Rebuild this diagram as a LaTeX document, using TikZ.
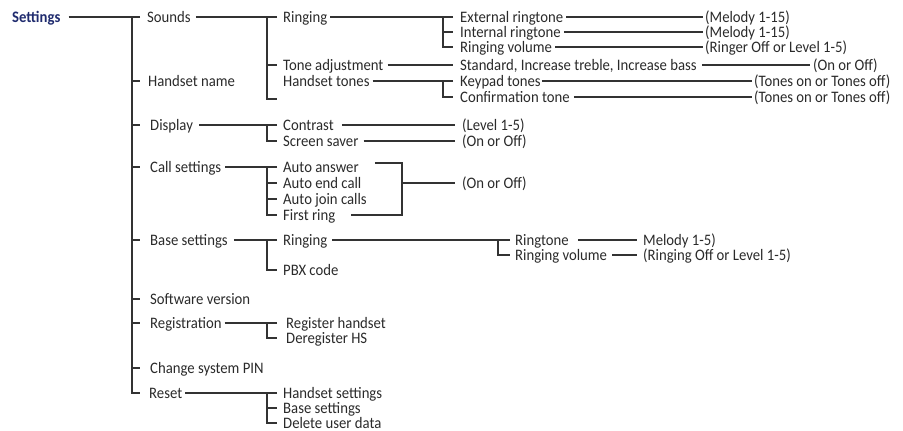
\documentclass[tikz,border=0pt]{standalone}
\usepackage{fontspec}
\setmainfont{Carlito}[FakeStretch=0.92]
\definecolor{txtc}{HTML}{2A2A2A}
\definecolor{linec}{HTML}{333333}
\definecolor{navy}{HTML}{1F2B6E}
\begin{document}
\begin{tikzpicture}[x=1pt,y=-1pt,
  lbl/.style={anchor=west,inner xsep=0pt,inner ysep=0pt,text height=10.3pt,text depth=0pt,
    font=\fontsize{16}{19}\selectfont,text=txtc},
  ln/.style={draw=linec,line width=1.15pt}]
\useasboundingbox (0,0) rectangle (903,431);
% ---- level 0
\node[lbl,font=\bfseries\fontsize{16}{19}\selectfont,text=navy] (settings) at (12,17) {Settings};
% ---- level 1
\node[lbl] (sounds)  at (147,17)  {Sounds};
\node[lbl] (hname)   at (148,81)  {Handset name};
\node[lbl] (display) at (150,125) {Display};
\node[lbl] (calls)   at (150,167) {Call settings};
\node[lbl] (bases)   at (150,240) {Base settings};
\node[lbl] (softv)   at (150,299) {Software version};
\node[lbl] (regis)   at (150,323) {Registration};
\node[lbl] (pin)     at (150,368) {Change system PIN};
\node[lbl] (reset)   at (149,393) {Reset};
% ---- sounds
\node[lbl] (ringA)   at (283,17)  {Ringing};
\node[lbl] (toneadj) at (283,65)  {Tone adjustment};
\node[lbl] (htones)  at (283,81)  {Handset tones};
\node[lbl] (extr)    at (460,17)  {External ringtone};
\node[lbl] (intr)    at (460,32)  {Internal ringtone};
\node[lbl] (rvol)    at (460,47)  {Ringing volume};
\node[lbl] (std)     at (460,65)  {Standard, Increase treble, Increase bass};
\node[lbl] (keypad)  at (460,81)  {Keypad tones};
\node[lbl] (conf)    at (460,97)  {Confirmation tone};
\node[lbl] (mel1)    at (705,17)  {(Melody 1-15)};
\node[lbl] (mel2)    at (705,32)  {(Melody 1-15)};
\node[lbl] (rlev)    at (705,47)  {(Ringer Off or Level 1-5)};
\node[lbl] (onoff1)  at (813,65)  {(On or Off)};
\node[lbl] (tones1)  at (754,81)  {(Tones on or Tones off)};
\node[lbl] (tones2)  at (754,97)  {(Tones on or Tones off)};
% ---- display
\node[lbl] (contr)   at (283,125) {Contrast};
\node[lbl] (ssaver)  at (283,141) {Screen saver};
\node[lbl] (lev)     at (462,125) {(Level 1-5)};
\node[lbl] (onoff2)  at (462,141) {(On or Off)};
% ---- call settings
\node[lbl] (aans)    at (283,167) {Auto answer};
\node[lbl] (aend)    at (283,183) {Auto end call};
\node[lbl] (ajoin)   at (283,199) {Auto join calls};
\node[lbl] (fring)   at (283,215) {First ring};
\node[lbl] (onoff3)  at (462,183) {(On or Off)};
% ---- base settings
\node[lbl] (bring)   at (283,240) {Ringing};
\node[lbl] (pbx)     at (283,270) {PBX code};
\node[lbl] (rtone)   at (515,240) {Ringtone};
\node[lbl] (bvol)    at (515,255) {Ringing volume};
\node[lbl] (mel3)    at (643,240) {Melody 1-5)};
\node[lbl] (rvoff)   at (643,255) {(Ringing Off or Level 1-5)};
% ---- registration
\node[lbl] (reghs)   at (286,323) {Register handset};
\node[lbl] (dereg)   at (286,338) {Deregister HS};
% ---- reset
\node[lbl] (hsset)   at (283,393) {Handset settings};
\node[lbl] (bsset)   at (283,408) {Base settings};
\node[lbl] (deldata) at (283,423) {Delete user data};

% ===== connectors
% trunk
\coordinate (t) at (132,17);
\draw[ln] ([xshift=8pt]settings.east) -- (sounds.west -| t);
\draw[ln] ([xshift=8pt]t) -- (t) -- (reset.west -| t) -- ++(8,0);
\foreach \n in {hname,display,calls,bases,softv,regis,pin}
  \draw[ln] (\n.west -| t) -- ++(8,0);
% sounds
\coordinate (b1) at (267,17);
\draw[ln] ([xshift=5pt]sounds.east) -- (b1);
\draw[ln] ([xshift=10pt]b1) -- (b1) -- (267,99) -- ++(10,0);
\draw[ln] (toneadj.west -| b1) -- ++(10,0);
% ringing
\coordinate (b2) at (443,17);
\draw[ln] ([xshift=3pt]ringA.east) -- (b2);
\draw[ln] ([xshift=10pt]b2) -- (b2) -- (b2 |- rvol.west) -- ++(10,0);
\draw[ln] (b2 |- intr.west) -- ++(10,0);
\draw[ln] ([xshift=3pt]extr.east) -- ([xshift=-2pt]mel1.west);
\draw[ln] ([xshift=3pt]intr.east) -- ([xshift=-2pt]mel2.west);
\draw[ln] ([xshift=3pt]rvol.east) -- ([xshift=-2pt]rlev.west);
% tone adjustment
\draw[ln] ([xshift=4pt]toneadj.east) -- ([xshift=-7pt]std.west);
\draw[ln] ([xshift=5pt]std.east) -- ([xshift=-3pt]onoff1.west);
% handset tones
\coordinate (b3) at (443,81);
\draw[ln] ([xshift=3pt]htones.east) -- (b3);
\draw[ln] ([xshift=10pt]b3) -- (b3) -- (b3 |- conf.west) -- ++(10,0);
\draw[ln] ([xshift=1pt]keypad.east) -- ([xshift=-2pt]tones1.west);
\draw[ln] ([xshift=4pt]conf.east) -- ([xshift=-2pt]tones2.west);
% display
\coordinate (b4) at (267,125);
\draw[ln] ([xshift=6pt]display.east) -- (b4);
\draw[ln] ([xshift=10pt]b4) -- (b4) -- (b4 |- ssaver.west) -- ++(10,0);
\draw[ln] ([xshift=8pt]contr.east) -- ([xshift=-7pt]lev.west);
\draw[ln] ([xshift=5pt]ssaver.east) -- ([xshift=-7pt]onoff2.west);
% call settings
\coordinate (b5) at (267,167);
\draw[ln] ([xshift=4pt]calls.east) -- (b5);
\draw[ln] ([xshift=10pt]b5) -- (b5) -- (b5 |- fring.west) -- ++(10,0);
\draw[ln] (b5 |- aend.west) -- ++(10,0);
\draw[ln] (b5 |- ajoin.west) -- ++(10,0);
\coordinate (c5) at (402,183);
\draw[ln] ([xshift=16pt,yshift=4pt]aans.east) -| (c5 |- fring.west) -- ([xshift=16pt]fring.east);
\draw[ln] (c5) -- ([xshift=-7pt]onoff3.west);
% base settings
\coordinate (b6) at (267,240);
\draw[ln] ([xshift=6pt]bases.east) -- (b6);
\draw[ln] ([xshift=10pt]b6) -- (b6) -- (b6 |- pbx.west) -- ++(10,0);
\coordinate (b7) at (498,240);
\draw[ln] ([xshift=5pt]bring.east) -- (b7);
\draw[ln] ([xshift=12pt]b7) -- (b7) -- (b7 |- bvol.west) -- ++(12,0);
\draw[ln] ([xshift=9pt]rtone.east) -- ([xshift=-6pt]mel3.west);
\draw[ln] ([xshift=5pt]bvol.east) -- ([xshift=-6pt]rvoff.west);
% registration
\coordinate (b8) at (267,323);
\draw[ln] ([xshift=3pt]regis.east) -- (b8);
\draw[ln] ([xshift=10pt]b8) -- (b8) -- (b8 |- dereg.west) -- ++(10,0);
% reset
\coordinate (b9) at (267,393);
\draw[ln] ([xshift=3pt]reset.east) -- (b9);
\draw[ln] ([xshift=10pt]b9) -- (b9) -- (b9 |- deldata.west) -- ++(10,0);
\draw[ln] (b9 |- bsset.west) -- ++(10,0);
\end{tikzpicture}
\end{document}
